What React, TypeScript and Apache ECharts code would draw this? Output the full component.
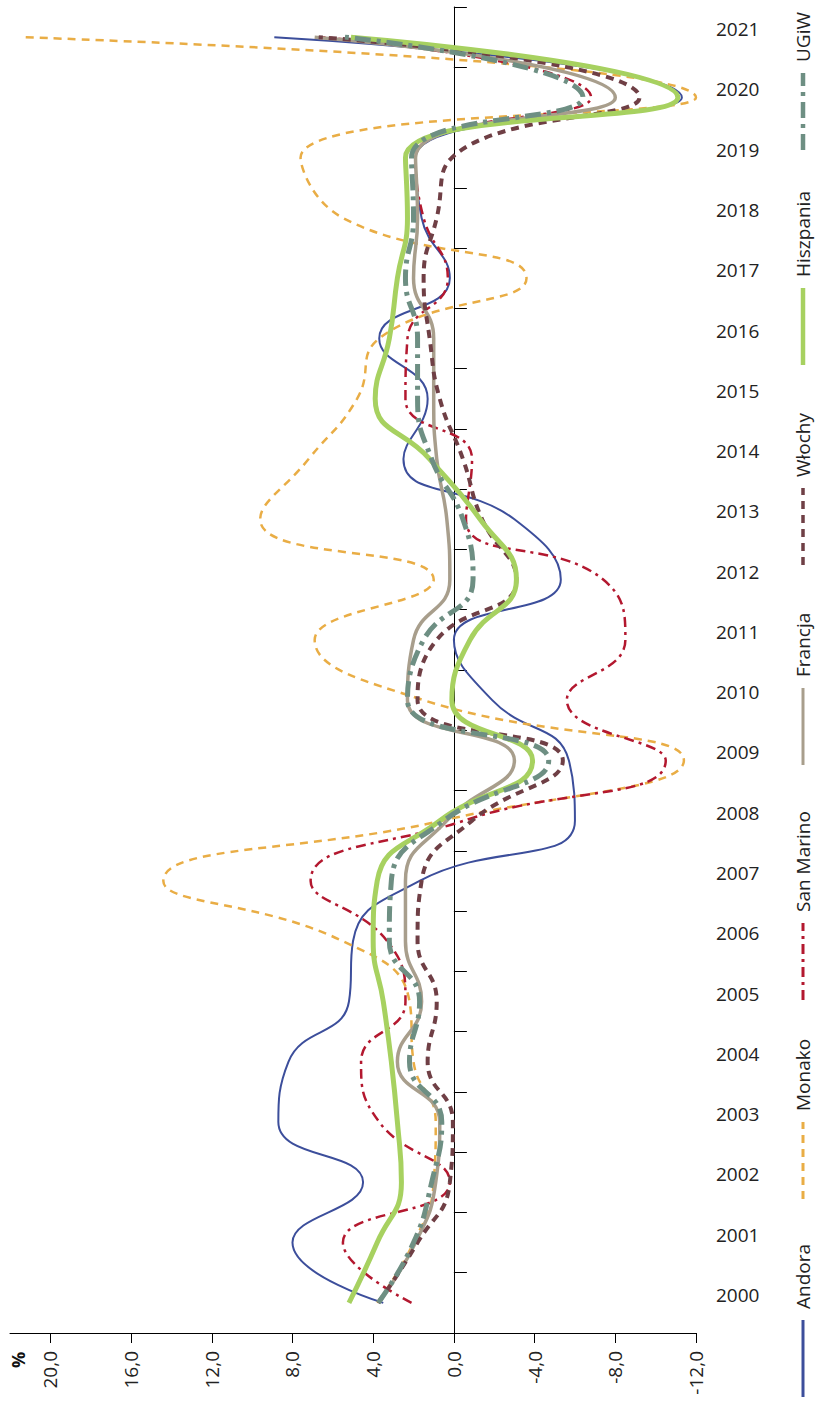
import React, { useEffect, useRef } from "react";
import * as echarts from "echarts";

const years = ["2000","2001","2002","2003","2004","2005","2006","2007","2008","2009","2010","2011","2012","2013","2014","2015","2016","2017","2018","2019","2020","2021"];

const andora = [3.5, 8.0, 4.5, 8.7, 8.2, 5.2, 5.0, 1.7, -6.0, -5.7, -1.9, 0.0, -5.3, -3.0, 2.5, 1.3, 3.7, 0.2, 1.6, 1.9, -11.3, 8.9];
const monako = [3.8, 2.0, 1.0, 0.9, 2.0, 2.2, 5.5, 14.4, 0.6, -11.4, 1.5, 6.9, 1.0, 9.6, 7.2, 4.8, 3.7, -3.6, 5.5, 7.6, -12.0, 21.5];
const sanMarino = [2.1, 5.5, 0.2, 3.7, 4.6, 2.4, 3.3, 7.1, -0.5, -10.5, -5.6, -8.5, -7.4, -0.6, -0.9, 2.4, 2.3, 0.3, 1.5, 1.9, -6.8, 6.5];
const francja = [3.75, 1.9, 0.9, 0.7, 2.8, 1.6, 2.4, 2.4, 0.35, -3.0, 2.3, 2.0, 0.2, 0.35, 0.85, 1.0, 1.0, 2.0, 1.8, 1.9, -8.0, 6.9];
const wlochy = [3.75, 1.8, 0.2, 0.05, 1.3, 0.85, 1.8, 1.6, -0.9, -5.4, 1.8, 0.85, -3.1, -1.4, -0.45, 0.7, 1.2, 1.5, 0.85, 0.1, -9.2, 6.7];
const hiszpania = [5.2, 3.8, 2.6, 2.8, 3.1, 3.5, 4.0, 3.8, 0.7, -3.9, 0.1, -0.8, -3.1, -1.3, 1.2, 3.9, 3.2, 2.8, 2.3, 2.4, -11.1, 5.1];
const ugiw = [3.75, 2.0, 1.1, 0.6, 2.2, 1.7, 3.2, 3.1, 0.5, -4.7, 2.3, 1.5, -0.95, -0.45, 1.1, 1.8, 1.8, 2.4, 2.0, 2.1, -6.4, 5.4];

const valueTicks = [-12, -8, -4, 0, 4, 8, 12, 16, 20];

const seriesDefs = [
  { name: "Andora", data: andora, color: "#3c4e9b", width: 2, dash: "solid" as any },
  { name: "Monako", data: monako, color: "#e9ad45", width: 2.5, dash: [8, 6] },
  { name: "San Marino", data: sanMarino, color: "#b3182f", width: 2.5, dash: [10, 5, 3, 5] },
  { name: "Francja", data: francja, color: "#a89e8c", width: 3.5, dash: "solid" as any },
  { name: "Włochy", data: wlochy, color: "#6f3f45", width: 4, dash: [8, 6] },
  { name: "Hiszpania", data: hiszpania, color: "#a7d160", width: 5, dash: "solid" as any },
  { name: "UGiW", data: ugiw, color: "#6e8f83", width: 5, dash: [16, 6, 4, 6] },
];

// legend layout (bottom start of each item, in px)
const legendStarts = [1397, 1199, 1000, 765, 565, 365, 150];

const FONT = "'Open Sans', 'Liberation Sans', sans-serif";

export default function App() {
  const ref = useRef<HTMLDivElement>(null);
  useEffect(() => {
    document.body.style.margin = "0";
    const chart = echarts.init(ref.current!, null, { renderer: "svg" });
    const legendGraphics: any[] = [];
    seriesDefs.forEach((s, i) => {
      const y0 = legendStarts[i];
      legendGraphics.push({
        type: "line",
        shape: { x1: 803, y1: y0, x2: 803, y2: y0 - 77 },
        style: { stroke: s.color, lineWidth: Math.max(3, s.width - 0.5), lineDash: s.dash === "solid" ? null : s.dash },
      });
      legendGraphics.push({
        type: "text",
        x: 803,
        y: y0 - 88,
        rotation: Math.PI / 2,
        style: { text: s.name, font: `19px ${FONT}`, fill: "#222", align: "left", verticalAlign: "middle" },
      });
    });
    legendGraphics.push({
      type: "text",
      x: 18,
      y: 1368,
      rotation: Math.PI / 2,
      style: { text: "%", font: `bold 18px ${FONT}`, fill: "#111", align: "left", verticalAlign: "middle" },
    });

    chart.setOption({
      animation: false,
      backgroundColor: "#fff",
      grid: { left: 10, right: 119, top: 7, bottom: 68, containLabel: false },
      xAxis: {
        type: "value",
        inverse: true,
        min: -12,
        max: 22,
        interval: 4,
        position: "bottom",
        splitLine: { show: false },
        axisLine: { show: true, onZero: false, lineStyle: { color: "#000", width: 1 } },
        axisTick: { show: true, length: 10, lineStyle: { color: "#000" }, customValues: valueTicks },
        axisLabel: {
          rotate: 90,
          margin: 18,
          fontSize: 19,
          fontFamily: FONT,
          color: "#222",
          customValues: valueTicks,
          formatter: (v: number) => v.toFixed(1).replace(".", ","),
        },
      },
      yAxis: [
        {
          type: "category",
          data: years,
          boundaryGap: true,
          axisLine: { show: true, onZero: true, lineStyle: { color: "#000", width: 1 } },
          axisTick: { show: true, inside: true, length: 13, lineStyle: { color: "#000" } },
          axisLabel: { show: false },
          splitLine: { show: false },
        },
        {
          type: "category",
          data: years,
          position: "right",
          boundaryGap: true,
          axisLine: { show: false, onZero: false },
          axisTick: { show: false },
          axisLabel: { show: true, margin: 20, fontSize: 19, fontFamily: FONT, color: "#222", align: "left", verticalAlign: "bottom", lineHeight: 16 },
          splitLine: { show: false },
        },
      ],
      series: seriesDefs.map((s) => ({
        name: s.name,
        type: "line",
        yAxisIndex: 0,
        smooth: 0.5,
        showSymbol: false,
        symbol: "none",
        data: s.data.map((v, i) => [v, years[i]]),
        lineStyle: { color: s.color, width: s.width, type: s.dash },
        itemStyle: { color: s.color },
        emphasis: { disabled: true },
      })),
      graphic: legendGraphics,
    });
    return () => chart.dispose();
  }, []);
  return <div ref={ref} style={{ position: "absolute", left: 0, top: 0, width: 815, height: 1401 }} />;
}
